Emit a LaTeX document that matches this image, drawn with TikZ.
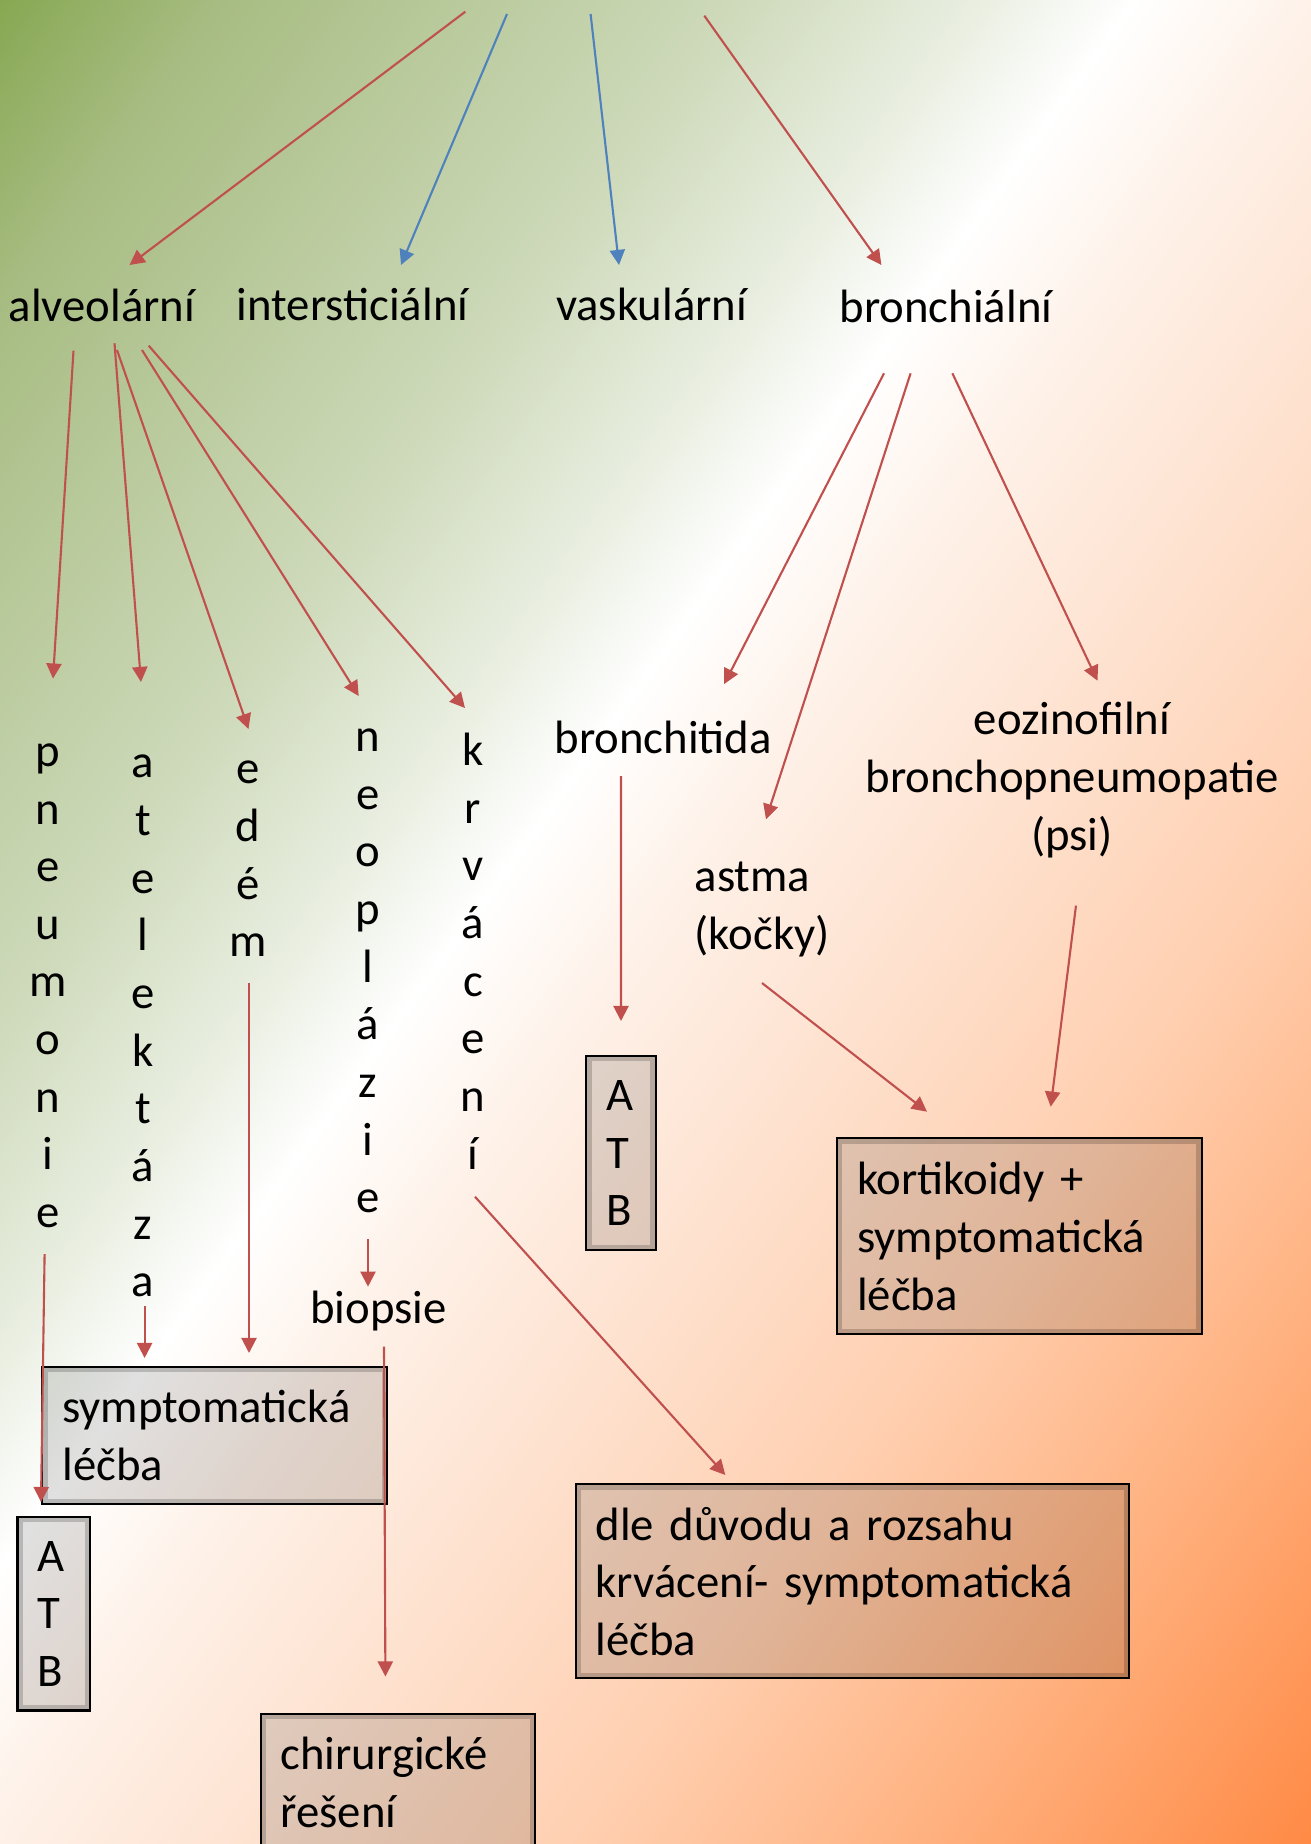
\documentclass[tikz,border=0pt]{standalone}
\usepackage{fontspec}
\setmainfont{Carlito}
\usepackage{xcolor}
\usepackage{tikz}
\usetikzlibrary{calc,arrows.meta}
\definecolor{arrred}{HTML}{C0504D}
\definecolor{arrblue}{HTML}{4F81BD}
\definecolor{bgA}{HTML}{87A852}
\definecolor{bgB}{HTML}{A7BC82}
\definecolor{bgC}{HTML}{CDD9B9}
\definecolor{bgD}{HTML}{EAEFE2}
\definecolor{bgE}{HTML}{FEF1E8}
\definecolor{bgF}{HTML}{FEE1CE}
\definecolor{bgG}{HTML}{FFCFB0}
\definecolor{bgH}{HTML}{FFB484}
\definecolor{bgI}{HTML}{FF8A45}
\pgfdeclarehorizontalshading{bgshade}{100bp}{color(0bp)=(bgA); color(25.2bp)=(bgA);
  color(29.4bp)=(bgB); color(38.9bp)=(bgC); color(43.7bp)=(bgD); color(46.5bp)=(white);
  color(50bp)=(bgE); color(55.3bp)=(bgF); color(61.1bp)=(bgG); color(66.9bp)=(bgH);
  color(74.8bp)=(bgI); color(100bp)=(bgI)}
\tikzset{
  every node/.style={font=\fontsize{13.3}{16.4}\selectfont, text=black},
  lab/.style={anchor=base, inner sep=0pt},
  vword/.style={anchor=base, align=center, inner sep=0pt},
  box/.style={anchor=north west, draw=black, line width=0.6pt, fill=black, fill opacity=0.12,
    text opacity=1, align=left, inner xsep=0.2cm, inner ysep=0pt,
    path picture={\draw[black, opacity=0.18, line width=3pt] (path picture bounding box.south west) rectangle (path picture bounding box.north east);}},
  redarr/.style={draw=arrred, line width=0.6pt, -{Triangle[length=4.3pt,width=4.3pt]}},
  bluearr/.style={draw=arrblue, line width=0.6pt, -{Triangle[length=4.3pt,width=4.3pt]}},
}
\begin{document}
\begin{tikzpicture}
  \useasboundingbox (0,0) rectangle (13.1,-18.44);
  % background
  \begin{scope}[transform canvas={rotate=-35.9}]
    \shade[shading=bgshade] (-0.1,-15.05) rectangle (21.52,7.8);
  \end{scope}

  % first level
  \node[lab] (alv)    at (1.02,-3.21)   {alveolární};
  \node[lab] (inter)  at (3.526,-3.207) {intersticiální};
  \node[lab] (vask)   at (6.516,-3.207) {vaskulární};
  \node[lab] (bronch) at (9.46,-3.227)  {bronchiální};

  % alveolar (base = last line)
  \node[vword] (pneu) at (0.48,-12.275) {p\\n\\e\\u\\m\\o\\n\\i\\e};
  \node[vword] (atel) at (1.43,-12.967) {a\\t\\e\\l\\e\\k\\t\\á\\z\\a};
  \node[vword] (edem) at (2.48,-9.568)  {e\\d\\é\\m};
  \node[vword] (neo)  at (3.68,-12.127) {n\\e\\o\\p\\l\\á\\z\\i\\e};
  \node[vword] (krv)  at (4.73,-11.69)  {k\\r\\v\\á\\c\\e\\n\\í};
  \node[lab] (biop) at (3.786,-13.233) {biopsie};

  % bronchial
  \node[lab] (bronchit) at (6.633,-7.533) {bronchitida};
  \node[anchor=base west, align=left, inner sep=0pt] (astma) at (6.94,-9.49) {astma\\(kočky)};
  \node[lab, align=center] (eoz) at (10.72,-8.50) {eozinofilní\\bronchopneumopatie\\(psi)};

  % therapy boxes
  \node[box, text width=3.045cm, minimum height=1.37cm] (symp) at (0.413,-13.66) {symptomatická\\léčba};
  \node[box, text width=0.323cm, minimum height=1.936cm] (atbA) at (0.165,-15.158) {A\\T\\B};
  \node[box, text width=0.294cm, minimum height=1.94cm] (atbB) at (5.853,-10.55) {A\\T\\B};
  \node[box, text width=3.247cm, minimum height=1.96cm] (kort) at (8.36,-11.373) {kortikoidy +\\symptomatická\\léčba};
  \node[box, text width=5.138cm, minimum height=1.94cm] (dle) at (5.745,-14.833) {dle důvodu a rozsahu\\krvácení- symptomatická\\léčba};
  \node[box, text width=2.344cm, minimum height=1.37cm] (chir) at (2.595,-17.13) {chirurgické\\řešení};

  % arrows from the top
  \coordinate (srcA) at (4.653,-0.117);
  \coordinate (srcI) at (5.07,-0.14);
  \coordinate (srcV) at (5.906,-0.14);
  \coordinate (srcB) at (7.043,-0.157);
  \draw[redarr]  (srcA) -- ($(alv.base)+(0.275,0.56)$);
  \draw[bluearr] (srcI) -- ($(inter.base)+(0.484,0.557)$);
  \draw[bluearr] (srcV) -- ($(vask.base)+(-0.326,0.557)$);
  \draw[redarr]  (srcB) -- ($(bronch.base)+(-0.646,0.577)$);

  \draw[redarr] ($(alv.base)+(-0.285,-0.297)$) -- ($(pneu.base)+(0.05,5.489)$);
  \draw[redarr] ($(alv.base)+(0.125,-0.223)$) -- ($(atel.base)+(-0.02,6.147)$);
  \draw[redarr] ($(alv.base)+(0.15,-0.29)$) -- ($(edem.base)+(0.005,2.278)$);
  \draw[redarr] ($(alv.base)+(0.40,-0.29)$) -- ($(neo.base)+(-0.093,5.167)$);
  \draw[redarr] ($(alv.base)+(0.467,-0.247)$) -- ($(krv.base)+(-0.08,4.61)$);

  \draw[redarr] ($(bronch.base)+(-0.62,-0.506)$) -- ($(bronchit.base)+(0.609,0.693)$);
  \draw[redarr] ($(bronch.base)+(-0.354,-0.506)$) -- ($(astma.base west)+(0.72,1.297)$);
  \draw[redarr] ($(bronch.base)+(0.064,-0.506)$) -- ($(eoz.base)+(0.255,1.693)$);

  \draw[redarr] ($(pneu.base)+(-0.034,-0.265)$) -- ($(atbA.north west)+(0.245,0.138)$);
  \draw[redarr] ($(atel.base)+(0.016,-0.093)$) -- ($(symp.north west)+(1.033,0.08)$);
  \draw[redarr] ($(edem.base)+(0.01,-0.265)$) -- ($(symp.north west)+(2.077,0.13)$);
  \draw[redarr] ($(neo.base)+(0,-0.266)$) -- ($(biop.base)+(-0.106,0.366)$);
  \draw[redarr] ($(biop.base)+(0.054,-0.234)$) -- ($(chir.north west)+(1.259,0.365)$);
  \draw[redarr] ($(krv.base)+(0.02,-0.277)$) -- ($(dle.north west)+(1.508,0.083)$);
  \draw[redarr] ($(bronchit.base)+(-0.423,-0.227)$) -- ($(atbB.north west)+(0.357,0.34)$);
  \draw[redarr] ($(astma.base west)+(0.68,-0.34)$) -- ($(kort.north west)+(0.91,0.256)$);
  \draw[redarr] ($(eoz.base)+(0.04,-0.556)$) -- ($(kort.north west)+(2.147,0.306)$);
\end{tikzpicture}
\end{document}
